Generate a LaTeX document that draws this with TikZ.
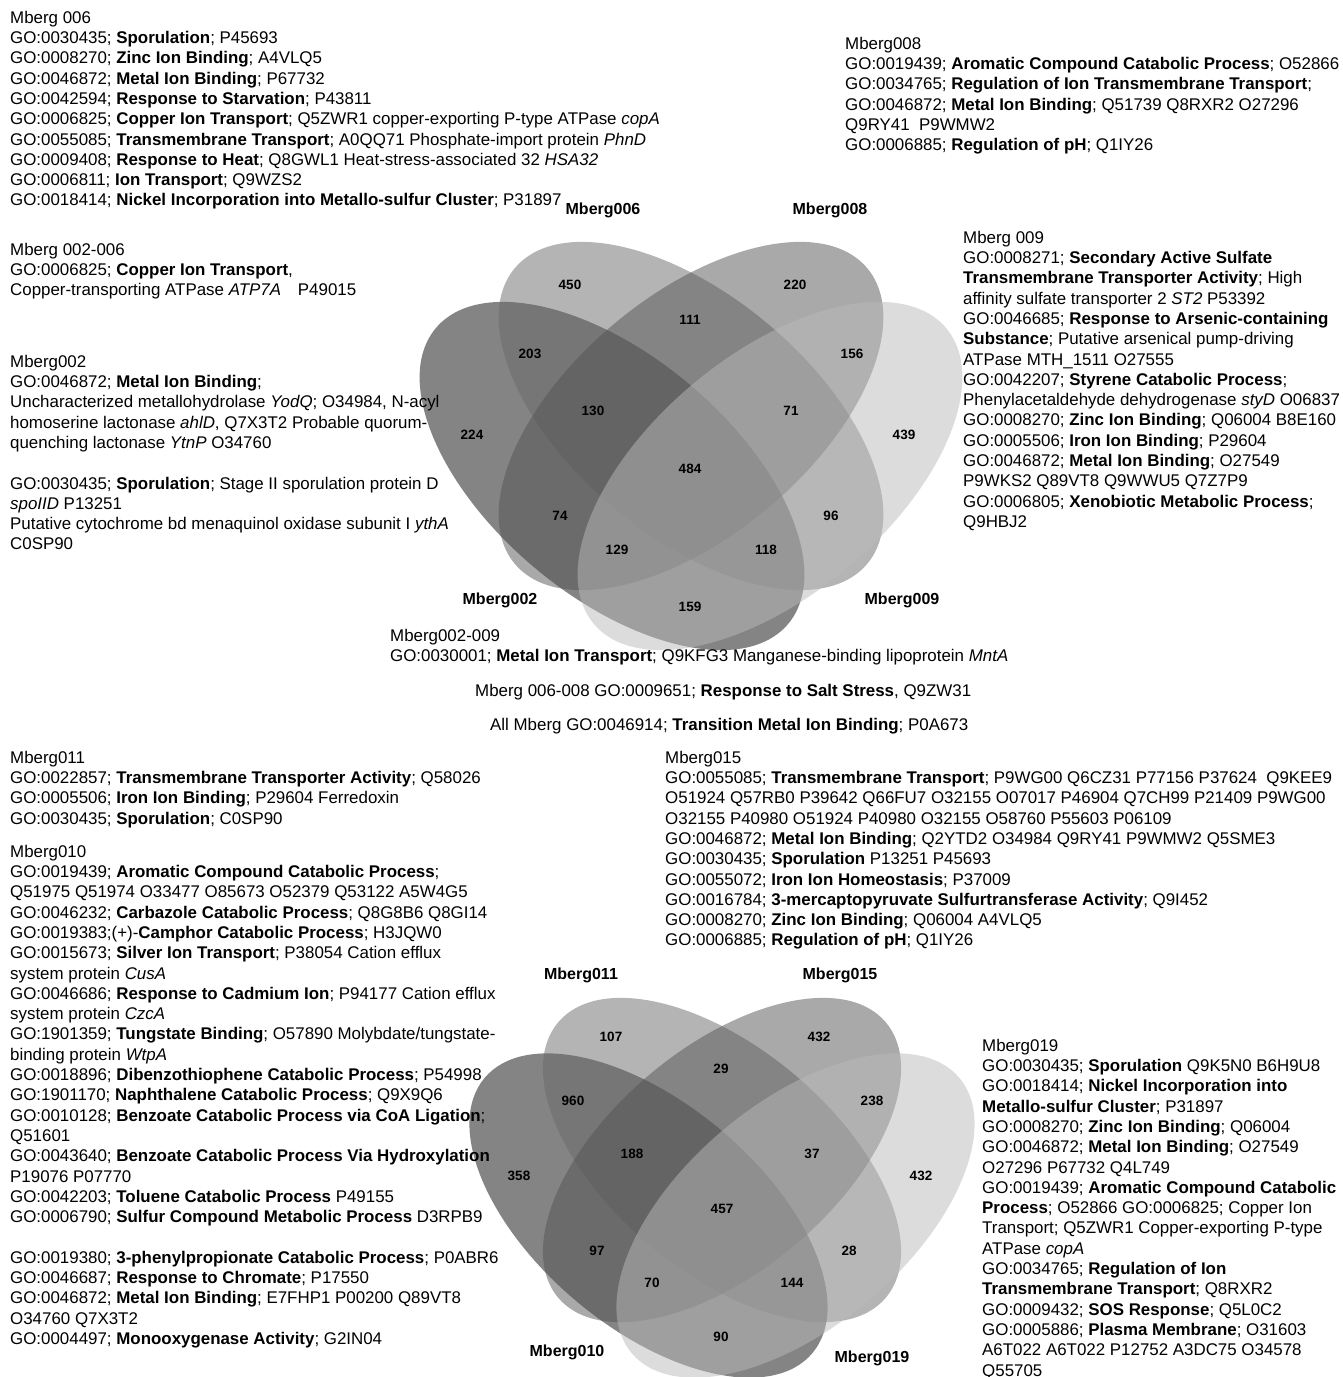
\documentclass[tikz,border=0pt]{standalone}
\usepackage{fontspec}
\setmainfont{Liberation Sans}
\usetikzlibrary{positioning}

\newcommand\gofont{\fontsize{16.9pt}{20.3pt}\selectfont}
\definecolor{shadeA}{gray}{0.04}
\definecolor{shadeB}{gray}{0.41}
\definecolor{shadeC}{gray}{0.33}
\definecolor{shadeD}{gray}{0.73}

\tikzset{
  golist/.style={anchor=north west, align=left, inner sep=0pt, font=\gofont},
  goline/.style={anchor=base west, inner sep=0pt, font=\gofont},
  count/.style={inner sep=1pt, font=\bfseries\fontsize{13.5pt}{16pt}\selectfont},
  setname/.style={inner sep=1pt, font=\bfseries\fontsize{16pt}{19pt}\selectfont},
  venn/.style={fill opacity=0.5}
}

\begin{document}
\begin{tikzpicture}[x=1pt,y=-1pt]
\useasboundingbox (0,0) rectangle (1343,1377);

\fill[shadeA, venn, shift={(612,476)}, rotate=-40] (0,0) ellipse [x radius=230pt, y radius=120pt];
\fill[shadeB, venn, shift={(691,416)}, rotate=-40] (0,0) ellipse [x radius=230pt, y radius=120pt];
\fill[shadeC, venn, shift={(691,416)}, rotate=40] (0,0) ellipse [x radius=230pt, y radius=120pt];
\fill[shadeD, venn, shift={(770,476)}, rotate=40] (0,0) ellipse [x radius=230pt, y radius=120pt];

\fill[shadeA, venn, shift={(648.5,1215.5)}, rotate=-40] (0,0) ellipse [x radius=214pt, y radius=112pt];
\fill[shadeB, venn, shift={(722,1160)}, rotate=-40] (0,0) ellipse [x radius=214pt, y radius=112pt];
\fill[shadeC, venn, shift={(722,1160)}, rotate=40] (0,0) ellipse [x radius=214pt, y radius=112pt];
\fill[shadeD, venn, shift={(795.5,1215.5)}, rotate=40] (0,0) ellipse [x radius=214pt, y radius=112pt];

\node[setname] (t006) at (603,210) {Mberg006};
\node[setname] (t008) at (830,210) {Mberg008};
\node[setname] (t002) at (500,600) {Mberg002};
\node[setname] (t009) at (902,600) {Mberg009};

\node[count] (tB) at (570,285) {450};
\node[count] (tC) at (795,285) {220};
\node[count] (tBC) at (690,320) {111};
\node[count] (tAB) at (530,354) {203};
\node[count] (tCD) at (852,354) {156};
\node[count] (tABC) at (593,411) {130};
\node[count] (tBCD) at (791,411) {71};
\node[count] (tA) at (472,435) {224};
\node[count] (tD) at (904,435) {439};
\node[count] (tABCD) at (690,469) {484};
\node[count] (tAC) at (560,516) {74};
\node[count] (tBD) at (831,516) {96};
\node[count] (tACD) at (617,550) {129};
\node[count] (tABD) at (766,550) {118};
\node[count] (tAD) at (690,607) {159};

\node[setname] (b011) at (581,975) {Mberg011};
\node[setname] (b015) at (840,975) {Mberg015};
\node[setname] (b010) at (567,1352) {Mberg010};
\node[setname] (b019) at (872,1358) {Mberg019};

\node[count] (bB) at (611,1037) {107};
\node[count] (bC) at (819,1037) {432};
\node[count] (bBC) at (721,1069) {29};
\node[count] (bAB) at (573,1101) {960};
\node[count] (bCD) at (872,1101) {238};
\node[count] (bABC) at (632,1154) {188};
\node[count] (bBCD) at (812,1154) {37};
\node[count] (bA) at (519,1176) {358};
\node[count] (bD) at (921,1176) {432};
\node[count] (bABCD) at (722,1209) {457};
\node[count] (bAC) at (597,1251) {97};
\node[count] (bBD) at (849,1251) {28};
\node[count] (bACD) at (652,1283) {70};
\node[count] (bABD) at (792,1283) {144};
\node[count] (bAD) at (721,1337) {90};

\node[golist] (go006) at (10,8.8) {\strut Mberg 006\\
GO:0030435; \textbf{Sporulation}; P45693\\
GO:0008270; \textbf{Zinc Ion Binding}; A4VLQ5\\
GO:0046872; \textbf{Metal Ion Binding}; P67732\\
GO:0042594; \textbf{Response to Starvation}; P43811\\
GO:0006825; \textbf{Copper Ion Transport}; Q5ZWR1 copper-exporting P-type ATPase \textit{copA}\\
GO:0055085; \textbf{Transmembrane Transport}; A0QQ71 Phosphate-import protein \textit{PhnD}\\
GO:0009408; \textbf{Response to Heat}; Q8GWL1 Heat-stress-associated 32 \textit{HSA32}\\
GO:0006811; \textbf{Ion Transport}; Q9WZS2\\
GO:0018414; \textbf{Nickel Incorporation into Metallo-sulfur Cluster}; P31897};

\node[golist] (go008) at (845,34.8) {\strut Mberg008\\
GO:0019439; \textbf{Aromatic Compound Catabolic Process}; O52866\\
GO:0034765; \textbf{Regulation of Ion Transmembrane Transport};\\
GO:0046872; \textbf{Metal Ion Binding}; Q51739 Q8RXR2 O27296\\
Q9RY41\ \ P9WMW2\\
GO:0006885; \textbf{Regulation of pH}; Q1IY26};

\node[golist] (go002x006) at (10,240.8) {\strut Mberg 002-006\\
GO:0006825; \textbf{Copper Ion Transport},\\
Copper-transporting ATPase \textit{ATP7A}\quad P49015};

\node[golist] (go002) at (10,352.8) {\strut Mberg002\\
GO:0046872; \textbf{Metal Ion Binding};\\
Uncharacterized metallohydrolase \textit{YodQ}; O34984, N-acyl\\
homoserine lactonase \textit{ahlD}, Q7X3T2 Probable quorum-\\
quenching lactonase \textit{YtnP} O34760\\[20.3pt]
GO:0030435; \textbf{Sporulation}; Stage II sporulation protein D\\
\textit{spoIID} P13251\\
Putative cytochrome bd menaquinol oxidase subunit I \textit{ythA}\\
C0SP90};

\node[golist] (go009) at (963,228.8) {\strut Mberg 009\\
GO:0008271; \textbf{Secondary Active Sulfate}\\
\textbf{Transmembrane Transporter Activity}; High\\
affinity sulfate transporter 2 \textit{ST2}\ P53392\\
GO:0046685; \textbf{Response to Arsenic-containing}\\
\textbf{Substance}; Putative arsenical pump-driving\\
ATPase MTH\_1511 O27555\\
GO:0042207; \textbf{Styrene Catabolic Process};\\
Phenylacetaldehyde dehydrogenase \textit{styD} O06837\\
GO:0008270; \textbf{Zinc Ion Binding}; Q06004 B8E160\\
GO:0005506; \textbf{Iron Ion Binding}; P29604\\
GO:0046872; \textbf{Metal Ion Binding}; O27549\\
P9WKS2 Q89VT8 Q9WWU5 Q7Z7P9\\
GO:0006805; \textbf{Xenobiotic Metabolic Process};\\
Q9HBJ2};

\node[golist] (go002x009) at (390,626.8) {\strut Mberg002-009\\
GO:0030001; \textbf{Metal Ion Transport}; Q9KFG3 Manganese-binding lipoprotein \textit{MntA}};

\node[goline] (go006x008) at (475,696) {Mberg 006-008 GO:0009651; \textbf{Response to Salt Stress}, Q9ZW31};
\node[goline] (goall) at (490,730) {All Mberg GO:0046914; \textbf{Transition Metal Ion Binding}; P0A673};

\node[golist] (go011) at (10,748.8) {\strut Mberg011\\
GO:0022857; \textbf{Transmembrane Transporter Activity}; Q58026\\
GO:0005506; \textbf{Iron Ion Binding}; P29604 Ferredoxin\\
GO:0030435; \textbf{Sporulation}; C0SP90};

\node[golist] (go010) at (10,842.8) {\strut Mberg010\\
GO:0019439; \textbf{Aromatic Compound Catabolic Process};\\
Q51975 Q51974 O33477 O85673 O52379 Q53122 A5W4G5\\
GO:0046232; \textbf{Carbazole Catabolic Process}; Q8G8B6 Q8GI14\\
GO:0019383;(+)-\textbf{Camphor Catabolic Process}; H3JQW0\\
GO:0015673; \textbf{Silver Ion Transport}; P38054 Cation efflux\\
system protein \textit{CusA}\\
GO:0046686; \textbf{Response to Cadmium Ion}; P94177 Cation efflux\\
system protein \textit{CzcA}\\
GO:1901359; \textbf{Tungstate Binding}; O57890 Molybdate/tungstate-\\
binding protein \textit{WtpA}\\
GO:0018896; \textbf{Dibenzothiophene Catabolic Process}; P54998\\
GO:1901170; \textbf{Naphthalene Catabolic Process}; Q9X9Q6\\
GO:0010128; \textbf{Benzoate Catabolic Process via CoA Ligation};\\
Q51601\\
GO:0043640; \textbf{Benzoate Catabolic Process Via Hydroxylation}\\
P19076 P07770\\
GO:0042203; \textbf{Toluene Catabolic Process} P49155\\
GO:0006790; \textbf{Sulfur Compound Metabolic Process} D3RPB9\\[20.3pt]
GO:0019380; \textbf{3-phenylpropionate Catabolic Process}; P0ABR6\\
GO:0046687; \textbf{Response to Chromate}; P17550\\
GO:0046872; \textbf{Metal Ion Binding}; E7FHP1 P00200 Q89VT8\\
O34760 Q7X3T2\\
GO:0004497; \textbf{Monooxygenase Activity}; G2IN04};

\node[golist] (go015) at (665,748.8) {\strut Mberg015\\
GO:0055085; \textbf{Transmembrane Transport}; P9WG00 Q6CZ31 P77156 P37624\ \ Q9KEE9\\
O51924 Q57RB0 P39642 Q66FU7 O32155 O07017 P46904 Q7CH99 P21409 P9WG00\\
O32155 P40980 O51924 P40980 O32155 O58760 P55603 P06109\\
GO:0046872; \textbf{Metal Ion Binding}; Q2YTD2 O34984 Q9RY41 P9WMW2 Q5SME3\\
GO:0030435; \textbf{Sporulation} P13251 P45693\\
GO:0055072; \textbf{Iron Ion Homeostasis}; P37009\\
GO:0016784; \textbf{3-mercaptopyruvate Sulfurtransferase Activity}; Q9I452\\
GO:0008270; \textbf{Zinc Ion Binding}; Q06004 A4VLQ5\\
GO:0006885; \textbf{Regulation of pH}; Q1IY26};

\node[golist] (go019) at (982,1036.8) {\strut Mberg019\\
GO:0030435; \textbf{Sporulation} Q9K5N0 B6H9U8\\
GO:0018414; \textbf{Nickel Incorporation into}\\
\textbf{Metallo-sulfur Cluster}; P31897\\
GO:0008270; \textbf{Zinc Ion Binding}; Q06004\\
GO:0046872; \textbf{Metal Ion Binding}; O27549\\
O27296 P67732 Q4L749\\
GO:0019439; \textbf{Aromatic Compound Catabolic}\\
\textbf{Process}; O52866 GO:0006825; Copper Ion\\
Transport; Q5ZWR1 Copper-exporting P-type\\
ATPase \textit{copA}\\
GO:0034765; \textbf{Regulation of Ion}\\
\textbf{Transmembrane Transport}; Q8RXR2\\
GO:0009432; \textbf{SOS Response}; Q5L0C2\\
GO:0005886; \textbf{Plasma Membrane}; O31603\\
A6T022 A6T022 P12752 A3DC75 O34578\\
Q55705};
\end{tikzpicture}
\end{document}
